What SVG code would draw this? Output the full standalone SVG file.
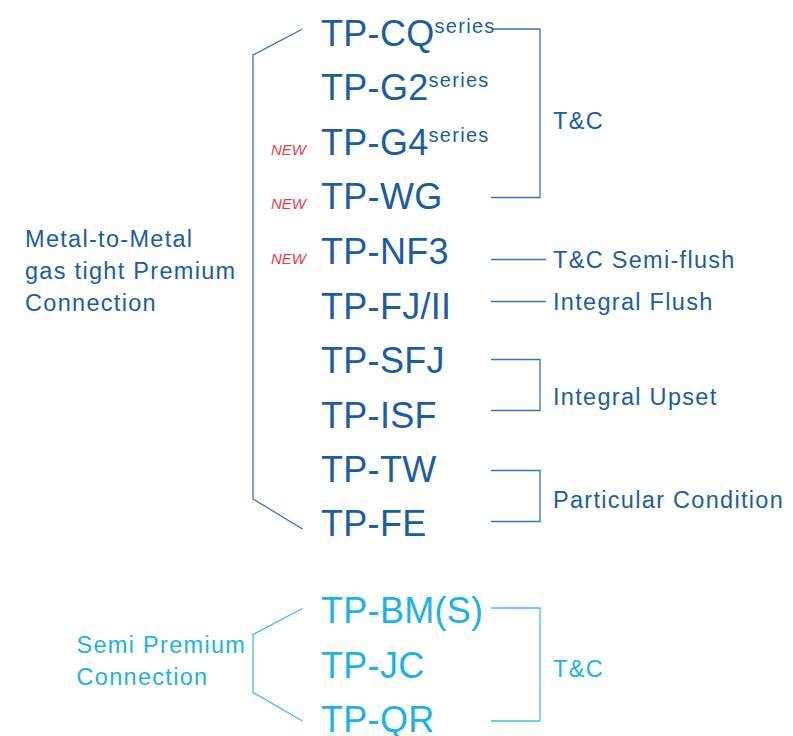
<svg xmlns="http://www.w3.org/2000/svg" width="793" height="736" viewBox="0 0 793 736">
<style>
.p{font-family:"Liberation Sans",Arial,sans-serif;font-size:36px;fill:#1a5ca6;letter-spacing:0.3px}
.p2{font-family:"Liberation Sans",Arial,sans-serif;font-size:36px;fill:#1cb1ea;letter-spacing:0.3px}
.sup{font-size:20px;letter-spacing:1.3px}
.lab{font-family:"Liberation Sans",Arial,sans-serif;font-size:23.5px;fill:#1a5ca6;letter-spacing:1.3px}
.lab2{font-family:"Liberation Sans",Arial,sans-serif;font-size:23.5px;fill:#1cb1ea;letter-spacing:1.3px}
.new{font-family:"Liberation Sans",Arial,sans-serif;font-size:15px;font-style:italic;fill:#ef3b47}
.ln{fill:none;stroke:#3a72b4;stroke-width:1.3}
.ln2{fill:none;stroke:#3dbdee;stroke-width:1.3}
</style>
<g id="connectors">
<polyline class="ln" points="302.5,29 253,55 253,499 302.5,529"/>
<polyline class="ln" points="493,29 540,29 540,197.5 491,197.5"/>
<line class="ln" x1="491" y1="259.5" x2="546" y2="259.5"/>
<line class="ln" x1="491" y1="301.5" x2="546" y2="301.5"/>
<polyline class="ln" points="491,359.5 540,359.5 540,410.5 491,410.5"/>
<polyline class="ln" points="491,470.5 540,470.5 540,521.5 491,521.5"/>
<polyline class="ln2" points="302.5,608.5 253,634.5 253,692.5 302.5,721"/>
<polyline class="ln2" points="491,608 540,608 540,721 491,721"/>
</g>
<g id="group-mtm"><text class="lab" x="25" y="247">Metal-to-Metal</text><text class="lab" x="25" y="279">gas tight Premium</text><text class="lab" x="25" y="311">Connection</text></g>
<g id="tp-cq"><text class="p" x="321" y="46">TP-CQ<tspan class="sup" dy="-13">series</tspan></text></g>
<g id="tp-g2"><text class="p" x="321" y="100">TP-G2<tspan class="sup" dy="-13">series</tspan></text></g>
<g id="tp-g4"><text class="new" x="271" y="155">NEW</text><text class="p" x="321" y="155">TP-G4<tspan class="sup" dy="-13">series</tspan></text></g>
<g id="tp-wg"><text class="new" x="271" y="209">NEW</text><text class="p" x="321" y="209">TP-WG</text></g>
<g id="tp-nf3"><text class="new" x="271" y="264">NEW</text><text class="p" x="321" y="264">TP-NF3</text></g>
<g id="tp-fj"><text class="p" x="321" y="318.5">TP-FJ/II</text></g>
<g id="tp-sfj"><text class="p" x="321" y="373">TP-SFJ</text></g>
<g id="tp-isf"><text class="p" x="321" y="427.5">TP-ISF</text></g>
<g id="tp-tw"><text class="p" x="321" y="482">TP-TW</text></g>
<g id="tp-fe"><text class="p" x="321" y="536">TP-FE</text></g>
<g id="lab-tc"><text class="lab" x="553" y="129">T&amp;C</text></g>
<g id="lab-semiflush"><text class="lab" x="553" y="268">T&amp;C Semi-flush</text></g>
<g id="lab-flush"><text class="lab" x="553" y="310">Integral Flush</text></g>
<g id="lab-upset"><text class="lab" x="553" y="405">Integral Upset</text></g>
<g id="lab-particular"><text class="lab" x="553" y="508">Particular Condition</text></g>
<g id="group-semi"><text class="lab2" x="76.5" y="653">Semi Premium</text><text class="lab2" x="76.5" y="685">Connection</text></g>
<g id="tp-bm"><text class="p2" x="321" y="622.5">TP-BM(S)</text></g>
<g id="tp-jc"><text class="p2" x="321" y="678">TP-JC</text></g>
<g id="tp-qr"><text class="p2" x="321" y="731.5">TP-QR</text></g>
<g id="lab-tc2"><text class="lab2" x="553" y="677">T&amp;C</text></g>
</svg>
